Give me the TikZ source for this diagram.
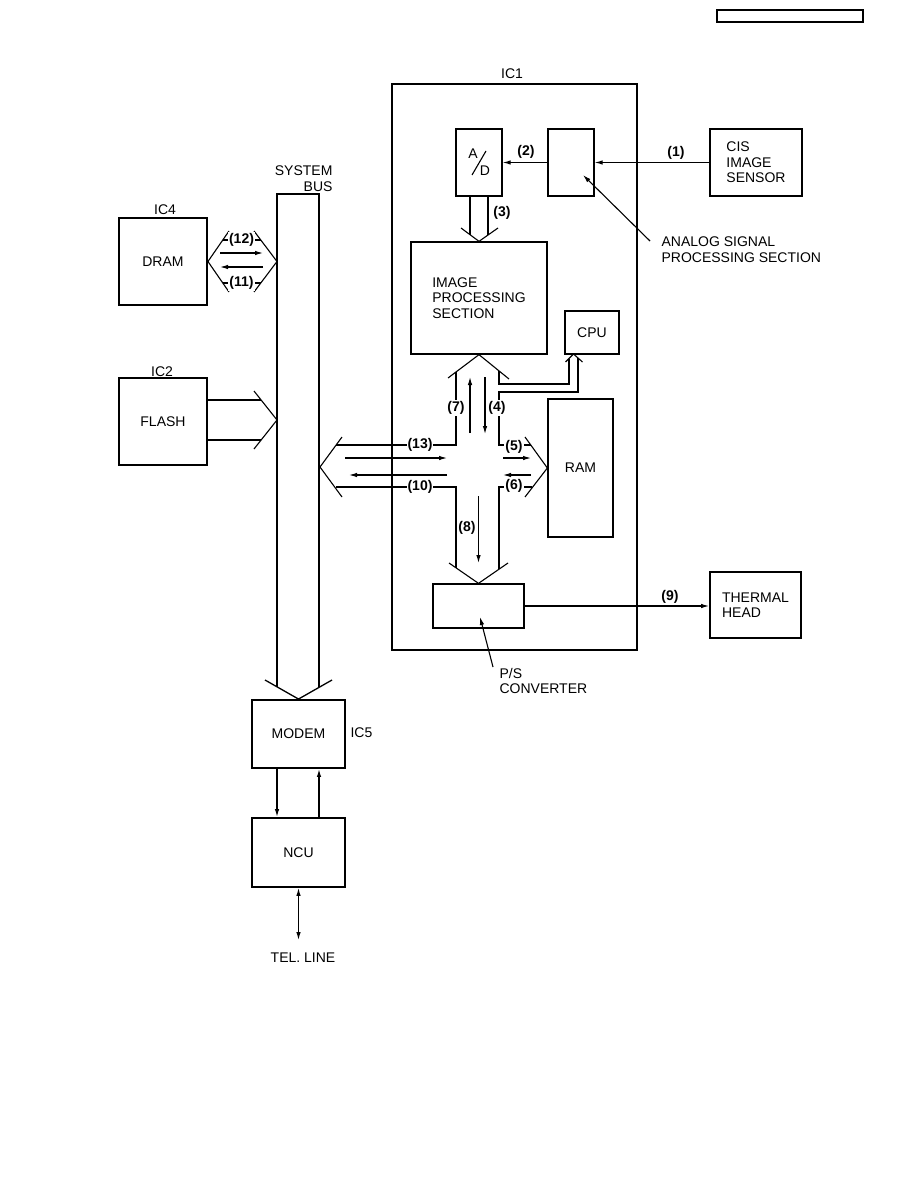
\documentclass[tikz,border=0pt]{standalone}
\usepackage{fontspec}
\setmainfont{Liberation Sans}
\usetikzlibrary{arrows.meta}

\begin{document}
\begin{tikzpicture}[x=1pt, y=-1pt, line width=1.1pt,
  font=\fontsize{14}{15.5}\selectfont,
  outer/.style 2 args={draw, line width=1.9pt, minimum width=#1, minimum height=#2, inner sep=0pt, align=left},
  inner/.style 2 args={draw, line width=1.3pt, minimum width=#1, minimum height=#2, inner sep=0pt, align=left},
  num/.style={font=\fontsize{14}{15.5}\selectfont\bfseries, inner sep=1pt},
  numw/.style={num, fill=white},
  txt/.style={inner sep=1pt, align=left},
  ptr/.style={-{Latex[length=8pt, width=4.5pt]}},
  bus/.style={line width=1.3pt}]
\useasboundingbox (0,0) rectangle (918,1188);

% page tag (top right)
\node[draw, line width=1.5pt, minimum width=146, minimum height=12, inner sep=0pt] (tag) at (790,16) {};

% IC1 and its blocks
\node[outer={245}{566}] (ic1) at (514.5,367) {};
\node[txt] (ic1lbl) at (512,74) {IC1};
\node[inner={46}{67}] (ad) at (479,162.5) {};
\node[txt] (adA) at (473,154) {A};
\node[txt] (adD) at (485,171) {D};
\draw (472,175) -- (486,151);
\node[inner={46}{67}] (asp) at (571,162.5) {};
\node[inner={136}{112}] (imgp) at (479,298) {IMAGE\\PROCESSING\\SECTION};
\node[inner={54}{43}] (cpu) at (592,332.5) {CPU};
\node[inner={65}{138}] (ram) at (580.5,468) {RAM};
\node[inner={91}{44}] (ps) at (478.5,606) {};

% outside blocks
\node[outer={92}{67}] (cis) at (756,162.5) {CIS\\IMAGE\\SENSOR};
\node[outer={91}{66}] (thermal) at (755.5,605) {THERMAL\\HEAD};
\node[outer={88}{87}] (dram) at (163,261.5) {DRAM};
\node[txt] (ic4) at (165,210) {IC4};
\node[outer={88}{87}] (flash) at (163,421.5) {FLASH};
\node[txt] (ic2) at (162,372) {IC2};
\node[outer={93}{68}] (modem) at (298.5,734) {MODEM};
\node[txt, anchor=west] (ic5) at (349,733) {IC5};
\node[outer={93}{69}] (ncu) at (298.5,852.5) {NCU};

% signal arrows
\draw[ptr] (cis.west) -- (asp.east);
\node[num] (n1) at (676,153) {(1)};
\draw[ptr] (asp.west) -- (ad.east);
\node[num] (n2) at (526,152) {(2)};
\draw[ptr] (ps.east) -- (ps.east -| thermal.west);
\node[num] (n9) at (670,597) {(9)};

% (3) A/D to image processing
\draw ([xshift=-9pt]ad.south) -- (470,234.5);
\draw ([xshift=9pt]ad.south) -- (488,235);
\draw (461,228) -- (imgp.north) -- (498,228);
\node[num] (n3) at (502,213) {(3)};

% system bus
\draw[bus] (277,687) -- (277,194) -- (319,194) -- (319,687);
\draw[bus] (265,680) -- (modem.north) -- (332,680);
\node[txt, anchor=east, align=right] (sysbus) at (334,178.5) {SYSTEM\\BUS};

% DRAM bus
\draw (229,231) -- (dram.east) -- (229,292);
\draw (254,231) -- (277,261.5) -- (254,292);
\draw (222.5,240) -- (261,240);
\draw (222.5,283) -- (261,283);
\node[numw] (n12) at (241.5,240) {(12)};
\node[numw] (n11) at (241.5,283) {(11)};
\draw[ptr] (220,253) -- (263,253);
\draw[ptr] (263,267) -- (220,267);

% FLASH bus
\draw (207,400) -- (261,400);
\draw (207,440) -- (261,440);
\draw (254,391) -- (277,420) -- (254,449);

% central cross
\draw (448,378) -- (imgp.south) -- (509,379);
\draw (456,372) -- (456,445) -- (336,445);
\draw (342,437) -- (320,467) -- (342,497);
\draw (336,487) -- (456,487) -- (456,568);
\draw (449,563) -- (ps.north) -- (508,563);
\draw (499,569) -- (499,487) -- (532,487);
\draw (525,437) -- (ram.west) -- (525,497);
\draw (531,445) -- (499,445) -- (499,392) -- (578,392) -- (578,358);
\draw (499,371) -- (499,384) -- (569,384) -- (569,359);
\draw (565.5,362) -- (573.5,354) -- (582.5,362);
\draw[ptr] (470,433) -- (470,377);
\draw[ptr] (485,377) -- (485,434);
\draw[ptr] (345,458) -- (447,458);
\draw[ptr] (447,475) -- (349,475);
\draw[ptr] (503,458) -- (531,458);
\draw[ptr] (531,475) -- (503,475);
\draw[ptr] (478.5,496) -- (478.5,563);
\node[numw] (n7) at (456,408) {(7)};
\node[numw] (n4) at (497,408) {(4)};
\node[numw] (n13) at (420,445) {(13)};
\node[numw] (n10) at (420,487) {(10)};
\node[numw] (n5) at (514,447) {(5)};
\node[numw] (n6) at (514,486) {(6)};
\node[num] (n8) at (467,528) {(8)};

% leaders
\node[txt, anchor=west] (aspnote) at (660,249.5) {ANALOG SIGNAL\\PROCESSING SECTION};
\coordinate (asptail) at (650,241);
\coordinate (asptip) at (583,175);
\draw[ptr] (asptail) -- (asptip);
\node[txt, anchor=west] (psnote) at (498,681) {P/S\\CONVERTER};
\coordinate (pstail) at (493,667);
\coordinate (pstip) at (480,617);
\draw[ptr] (pstail) -- (pstip);

% modem / ncu / line
\draw[ptr, bus] ([xshift=-21.5pt]modem.south) -- ([xshift=-21.5pt]ncu.north);
\draw[ptr, bus] ([xshift=20.5pt]ncu.north) -- ([xshift=20.5pt]modem.south);
\coordinate (telend) at (298.5,940);
\draw[{Latex[length=8pt, width=4.5pt]}-{Latex[length=8pt, width=4.5pt]}] (ncu.south) -- (telend);
\node[txt] (tel) at (303,958) {TEL. LINE};
\end{tikzpicture}
\end{document}
